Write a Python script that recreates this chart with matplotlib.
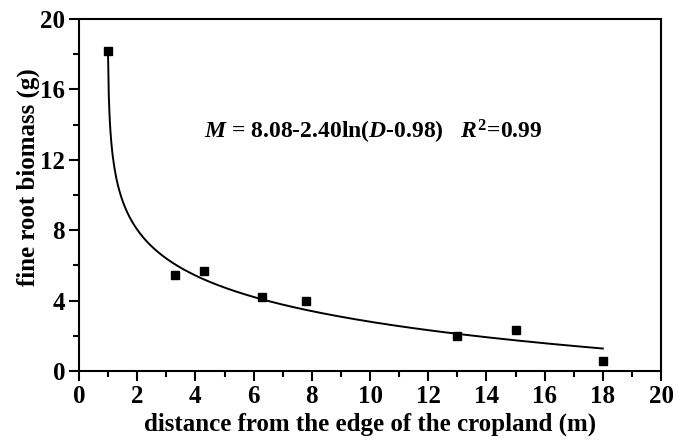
import numpy as np
import matplotlib
matplotlib.use("Agg")
import matplotlib.pyplot as plt
from matplotlib.ticker import MultipleLocator

distance = [1.0, 3.3, 4.3, 6.3, 7.8, 13.0, 15.0, 18.0]
biomass = [18.2, 5.45, 5.7, 4.2, 3.98, 1.99, 2.33, 0.57]
coef_a = 8.08
coef_b = 2.40
coef_c = 0.98
fit_start, fit_end = 0.995, 18.0

plt.rcParams['font.family'] = ['Liberation Serif', 'DejaVu Serif']
plt.rcParams['font.weight'] = 'bold'
plt.rcParams['mathtext.fontset'] = 'custom'
plt.rcParams['mathtext.rm'] = 'Liberation Serif:bold'
plt.rcParams['mathtext.it'] = 'Liberation Serif:bold:italic'
plt.rcParams['mathtext.bf'] = 'Liberation Serif:bold'

fig = plt.figure(figsize=(6.89, 4.41), dpi=100)
ax = fig.add_axes([0.1147, 0.1587, 0.8447, 0.7982])

D = np.linspace(fit_start, fit_end, 600)
M = coef_a - coef_b * np.log(D - coef_c)
ax.plot(D, M, color='black', lw=1.4)
ax.plot(distance, biomass, 's', color='black', ms=6.2)

ax.set_xlim(0, 20)
ax.set_ylim(0, 20)
ax.xaxis.set_major_locator(MultipleLocator(2))
ax.xaxis.set_minor_locator(MultipleLocator(1))
ax.yaxis.set_major_locator(MultipleLocator(4))
ax.yaxis.set_minor_locator(MultipleLocator(2))
ax.tick_params(which='major', direction='out', length=7, width=1.5, labelsize=18, pad=3)
ax.tick_params(which='minor', direction='out', length=4, width=1.5)
for s in ax.spines.values():
    s.set_linewidth(1.5)
for lab in ax.get_xticklabels() + ax.get_yticklabels():
    lab.set_fontweight('bold')

ax.set_xlabel('distance from the edge of the cropland (m)', fontsize=18, fontweight='bold')
ax.xaxis.set_label_coords(0.5, -0.152)
ax.xaxis.label.set_va('center')
ax.set_ylabel('fine root biomass (g)', fontsize=18, fontweight='bold')
ax.yaxis.set_label_coords(-0.0876, 0.551)
ax.yaxis.label.set_va('center')

ax.text(10.1, 13.6, r'$\mathit{M}$ = 8.08-2.40ln($\mathit{D}$-0.98)   $\mathit{R}^{2}$=0.99',
        fontsize=17, fontweight='bold', ha='center', va='center')

fig.savefig('out.png', dpi=100)
